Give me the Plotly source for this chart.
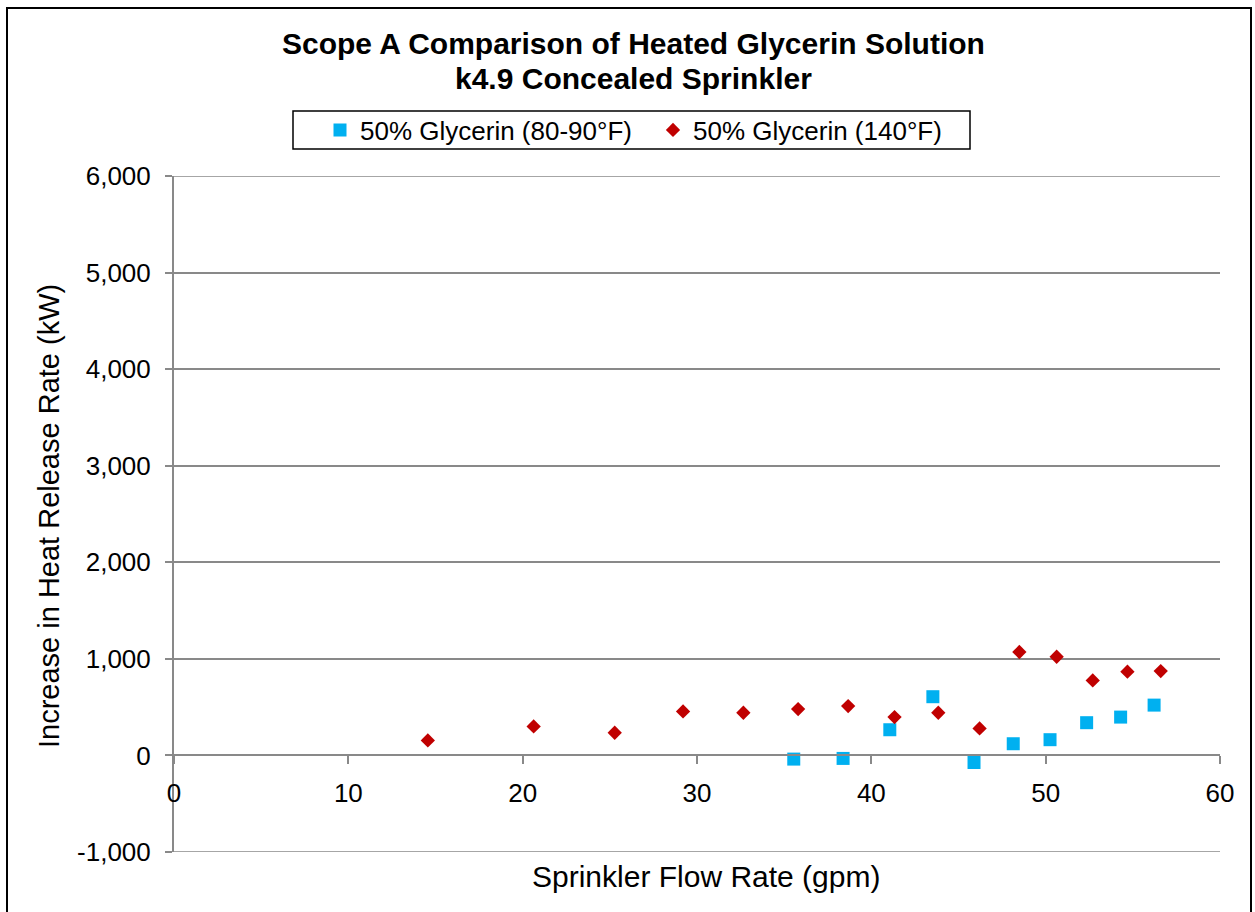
import plotly.graph_objects as go

# ---- data ----
SERIES_A_NAME = "50% Glycerin (80-90°F)"
SERIES_A_X = [35.55, 38.38, 41.06, 43.53, 45.89, 48.14, 50.25, 52.35, 54.30, 56.22]
SERIES_A_Y = [-38, -31, 266, 608, -73, 121, 163, 339, 397, 521]

SERIES_B_NAME = "50% Glycerin (140°F)"
SERIES_B_X = [14.56, 20.63, 25.28, 29.20, 32.66, 35.80, 38.67, 41.33, 43.84, 46.21,
              48.49, 50.63, 52.70, 54.69, 56.60]
SERIES_B_Y = [155, 300, 235, 456, 442, 480, 511, 397, 442, 280,
              1071, 1022, 777, 867, 874]

X_TICKS = [0, 10, 20, 30, 40, 50, 60]
Y_TICKS = [-1000, 0, 1000, 2000, 3000, 4000, 5000, 6000]
Y_TICK_LABELS = ["-1,000", "0", "1,000", "2,000", "3,000", "4,000", "5,000", "6,000"]

TITLE_LINE1 = "Scope A Comparison of Heated Glycerin Solution"
TITLE_LINE2 = "k4.9 Concealed Sprinkler"
X_TITLE = "Sprinkler Flow Rate (gpm)"
Y_TITLE = "Increase in Heat Release Rate (kW)"

# ---- layout geometry (pixels) ----
W, H = 1255, 912
ML, MR, MT, MB = 174, 35, 176, 60
PW, PH = W - ML - MR, H - MT - MB


def px(x):
    return (x - ML) / PW


def py(y):
    return (H - MB - y) / PH


FONT = "Liberation Sans, Arial, sans-serif"
GRID = "#898989"

fig = go.Figure()
fig.add_trace(go.Scatter(
    x=SERIES_A_X, y=SERIES_A_Y, mode="markers", name=SERIES_A_NAME,
    marker=dict(symbol="square", size=13, color="#00B0F0"),
))
fig.add_trace(go.Scatter(
    x=SERIES_B_X, y=SERIES_B_Y, mode="markers", name=SERIES_B_NAME,
    marker=dict(symbol="diamond", size=11, color="#C00000"),
))

# gridlines at the range edges (plotly skips them at the plot boundary)
edge_grid = [
    dict(type="line", xref="paper", yref="y", x0=0, x1=1, y0=v, y1=v,
         line=dict(color=GRID, width=1.5), layer="below")
    for v in (Y_TICKS[0], Y_TICKS[-1])
]

fig.update_layout(
    width=W, height=H,
    margin=dict(l=ML, r=MR, t=MT, b=MB, autoexpand=False),
    paper_bgcolor="white", plot_bgcolor="white",
    font=dict(family=FONT, color="black", size=26),
    showlegend=True,
    legend=dict(
        orientation="h", x=px(320), xanchor="left", y=py(130), yanchor="middle",
        font=dict(family=FONT, size=26, color="black"),
        bgcolor="rgba(0,0,0,0)", borderwidth=0,
        entrywidthmode="pixels", entrywidth=288,
    ),
    xaxis=dict(
        range=[0, 60], tickvals=X_TICKS, showgrid=False, zeroline=False,
        showline=True, linecolor=GRID, linewidth=2,
        anchor="free", position=1000 / 7000,
        ticks="outside", ticklen=8, tickwidth=2, tickcolor=GRID,
        tickfont=dict(family=FONT, size=26, color="black"),
        ticklabelstandoff=6,
    ),
    yaxis=dict(
        range=[-1000, 6000], tickvals=Y_TICKS, ticktext=Y_TICK_LABELS,
        showgrid=True, gridcolor=GRID, gridwidth=1.5, zeroline=False,
        showline=True, linecolor=GRID, linewidth=2,
        ticks="outside", ticklen=7, tickwidth=2, tickcolor=GRID,
        tickfont=dict(family=FONT, size=26, color="black"),
        ticklabelstandoff=9,
    ),
    shapes=edge_grid + [
        # outer chart border
        dict(type="rect", xref="paper", yref="paper",
             x0=px(7), x1=px(1251), y0=py(925), y1=py(8),
             line=dict(color="black", width=2), fillcolor="rgba(0,0,0,0)", layer="below"),
        # legend box
        dict(type="rect", xref="paper", yref="paper",
             x0=px(293), x1=px(970), y0=py(149), y1=py(111),
             line=dict(color="black", width=1.5), fillcolor="rgba(0,0,0,0)"),
    ],
    annotations=[
        dict(text=f"<b>{TITLE_LINE1}</b>", xref="paper", yref="paper",
             x=px(633), y=py(43), xanchor="center", yanchor="middle", showarrow=False,
             font=dict(family=FONT, size=30, color="black")),
        dict(text=f"<b>{TITLE_LINE2}</b>", xref="paper", yref="paper",
             x=px(633), y=py(78), xanchor="center", yanchor="middle", showarrow=False,
             font=dict(family=FONT, size=30, color="black")),
        dict(text=X_TITLE, xref="paper", yref="paper",
             x=px(706), y=py(876), xanchor="center", yanchor="middle", showarrow=False,
             font=dict(family=FONT, size=30, color="black")),
        dict(text=Y_TITLE, xref="paper", yref="paper", textangle=-90,
             x=px(49), y=py(516), xanchor="center", yanchor="middle", showarrow=False,
             font=dict(family=FONT, size=29, color="black")),
    ],
)

fig.write_html(
    "out.html",
    config={"displayModeBar": False},
    post_script="document.body.style.margin='0';document.body.style.overflow='hidden';",
)
